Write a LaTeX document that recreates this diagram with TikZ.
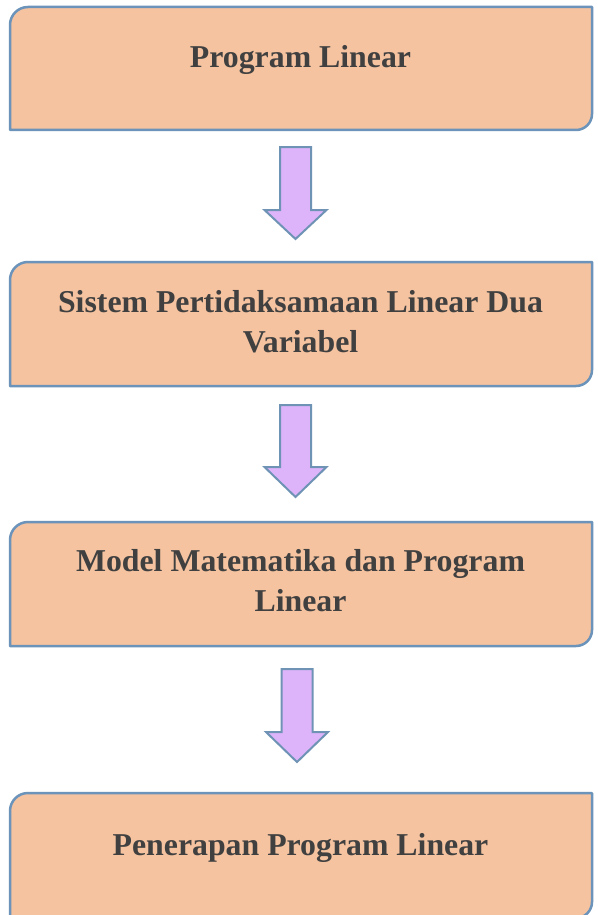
\documentclass[tikz,border=0pt]{standalone}
\usepackage{fontspec}
\setmainfont{Liberation Serif}
\definecolor{boxfill}{HTML}{F5C3A0}
\definecolor{boxline}{HTML}{6C93BA}
\definecolor{arrfill}{HTML}{DDB4FA}
\definecolor{arrline}{HTML}{6F93B5}
\definecolor{txt}{HTML}{404040}
\tikzset{
  boxshape/.style={fill=boxfill, draw=boxline, line width=2.5pt, line join=round},
  arrshape/.style={fill=arrfill, draw=arrline, line width=2pt, line join=miter},
  lbl/.style={text=txt, font=\bfseries\fontsize{31.8}{40}\selectfont, align=center, inner sep=0pt},
}
\newcommand\snipbox[4]{% x1,y1,x2,y2
  \path[boxshape] (#1,#4) -- (#1,#2+18) arc (180:270:18) -- (#3,#2) -- (#3,#4-16) arc (0:90:16) -- cycle;}
\newcommand\blockarrow[4]{% cx, top, headbase, tip
  \path[arrshape] (#1-15.5,#2) -- (#1+15.5,#2) -- (#1+15.5,#3) -- (#1+31,#3) -- (#1,#4) -- (#1-31,#3) -- (#1-15.5,#3) -- cycle;}
\begin{document}
\begin{tikzpicture}[x=1pt,y=-1pt]
\clip (0,0) rectangle (597,915);
\fill[white] (0,0) rectangle (597,915);
\snipbox{10}{7}{592}{130}
\snipbox{10}{262}{592}{386}
\snipbox{10}{522}{592}{646}
\snipbox{10}{793}{592}{918}
\node[lbl] (b1) at (300.5,60) {Program Linear};
\node[lbl] (b2) at (300.5,322) {Sistem Pertidaksamaan Linear Dua\\Variabel};
\node[lbl] (b3) at (300.5,581) {Model Matematika dan Program\\Linear};
\node[lbl] (b4) at (300.5,848) {Penerapan Program Linear};
\blockarrow{295.5}{147}{210}{239}
\blockarrow{295.5}{405}{467}{497}
\blockarrow{297}{669}{732}{762}
\end{tikzpicture}
\end{document}
